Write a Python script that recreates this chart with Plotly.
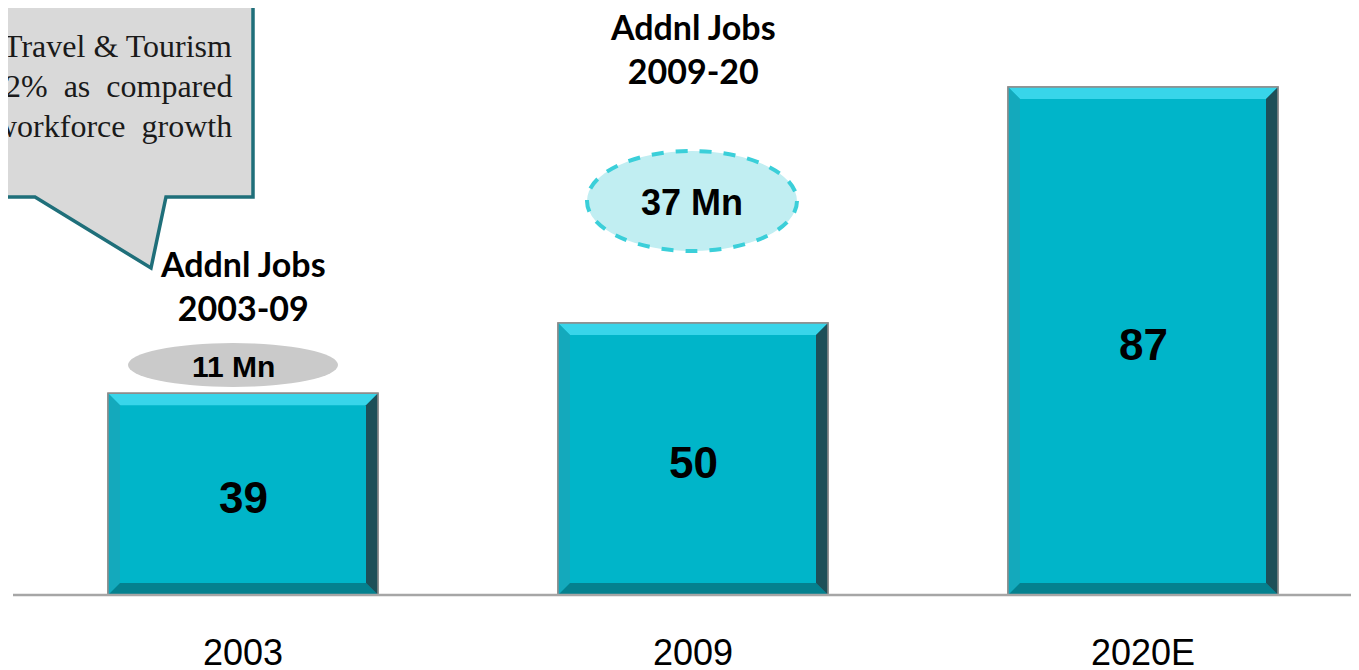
import plotly.graph_objects as go

# chart data
years = ["2003", "2009", "2020E"]
jobs_mn = [39, 50, 87]
addnl_periods = ["2003-09", "2009-20"]
addnl_jobs = ["11 Mn", "37 Mn"]
callout_lines = ["Travel &amp; Tourism", "2%&nbsp; as&nbsp; compared", "workforce&nbsp; growth"]

# the page has an 8px body margin, so the figure sits at (8, 8) in the window
OFF = 8
W, H = 1359 - OFF, 670 - OFF
BASE_Y = 595  # baseline, window px
PLOT_H = BASE_Y - OFF
Y_FLOOR = 7.35
PX_PER_UNIT = 6.378
Y_TOP = Y_FLOOR + PLOT_H / PX_PER_UNIT
X_RANGE = [-(243 - OFF) / 450, (1359 - 243) / 450]
BAR_W = 0.6

BAR = "#00B5C9"
BAR_TOP = "#38D5EA"
BAR_LEFT = "#14A9BC"
BAR_RIGHT = "#1D4F58"
BAR_BOTTOM = "#04818F"


def px(x):
    return (x - OFF) / W


def py(y):
    return (BASE_Y - y) / PLOT_H


x_idx = list(range(len(years)))

fig = go.Figure()
fig.add_trace(
    go.Bar(
        x=x_idx,
        y=jobs_mn,
        width=BAR_W,
        marker=dict(color=BAR, line=dict(color="#8C8C8C", width=1.5)),
        hoverinfo="skip",
    )
)

# bevel effect on each bar
dx = 12 / 450
dy = 12 / PX_PER_UNIT
shapes = []
for i, v in zip(x_idx, jobs_mn):
    l, r = i - BAR_W / 2, i + BAR_W / 2
    b, t = Y_FLOOR, v
    faces = [
        (BAR_TOP, [(l, t), (r, t), (r - dx, t - dy), (l + dx, t - dy)]),
        (BAR_LEFT, [(l, t), (l + dx, t - dy), (l + dx, b + dy), (l, b)]),
        (BAR_BOTTOM, [(l, b), (l + dx, b + dy), (r - dx, b + dy), (r, b)]),
        (BAR_RIGHT, [(r, t), (r - dx, t - dy), (r - dx, b + dy), (r, b)]),
    ]
    for col, pts in faces:
        path = "M " + " L ".join(f"{a},{c}" for a, c in pts) + " Z"
        shapes.append(dict(type="path", xref="x", yref="y", path=path,
                           fillcolor=col, line=dict(width=0), layer="above"))
    shapes.append(dict(type="rect", xref="x", yref="y", x0=l, x1=r, y0=b, y1=t,
                       line=dict(color="#8C8C8C", width=1.5), layer="above"))

# baseline
shapes.append(dict(type="line", xref="paper", yref="paper", x0=px(13), x1=1, y0=0, y1=0,
                   line=dict(color="#A6A6A6", width=2.5)))

# callout box with tail
callout = [(-20, -20), (253, -20), (253, 197), (166, 197), (151, 268), (35, 197), (-20, 197)]
shapes.append(dict(
    type="path", xref="paper", yref="paper",
    path="M " + " L ".join(f"{px(a)},{py(c)}" for a, c in callout) + " Z",
    fillcolor="#D9D9D9", line=dict(color="#1F6F7A", width=3.5),
))

# ellipses for additional jobs
shapes.append(dict(type="circle", xref="paper", yref="paper",
                   x0=px(128), x1=px(338), y0=py(387), y1=py(343),
                   fillcolor="#CACACA", line=dict(width=0)))
shapes.append(dict(type="circle", xref="paper", yref="paper",
                   x0=px(587), x1=px(797), y0=py(251), y1=py(151),
                   fillcolor="#C1EEF2", line=dict(color="#3BCFD9", width=4, dash="dash")))

head_font = dict(family="Lato, Open Sans", size=34, color="black", weight="bold")
value_font = dict(family="Liberation Sans, Arial", size=44, color="black", weight="bold")
annotations = [
    dict(x=px(233), y=py(366), text=addnl_jobs[0],
         font=dict(family="Liberation Sans, Arial", size=30, color="black", weight="bold")),
    dict(x=px(692), y=py(202), text=addnl_jobs[1],
         font=dict(family="Liberation Sans, Arial", size=36, color="black", weight="bold")),
    dict(x=px(243), y=py(285), text="Addnl Jobs<br>" + addnl_periods[0], font=head_font),
    dict(x=px(693), y=py(48), text="Addnl Jobs<br>" + addnl_periods[1], font=head_font),
]
for k, line in enumerate(callout_lines):
    annotations.append(dict(
        x=px(234), y=py(46 + 40 * k), text=line, xanchor="right",
        font=dict(family="Liberation Serif, Times New Roman", size=32, color="#1A1A1A"),
    ))
for a in annotations:
    a.update(xref="paper", yref="paper")
for i, v in zip(x_idx, jobs_mn):
    annotations.append(dict(x=i, y=(v + Y_FLOOR) / 2 - 0.5, xref="x", yref="y",
                            text=str(v), font=value_font))
for a in annotations:
    a.update(showarrow=False)
    a.setdefault("xanchor", "center")
    a.setdefault("yanchor", "middle")

fig.update_layout(
    width=W,
    height=H,
    margin=dict(l=0, r=0, t=0, b=H - PLOT_H),
    paper_bgcolor="white",
    plot_bgcolor="white",
    showlegend=False,
    shapes=shapes,
    annotations=annotations,
    xaxis=dict(
        range=X_RANGE,
        tickvals=x_idx,
        ticktext=years,
        showgrid=False,
        zeroline=False,
        showline=False,
        ticks="",
        automargin=False,
        ticklabelstandoff=33,
        tickfont=dict(family="Liberation Sans, Arial", size=36, color="black"),
    ),
    yaxis=dict(range=[Y_FLOOR, Y_TOP], visible=False, automargin=False),
)

fig.write_html("out.html")
